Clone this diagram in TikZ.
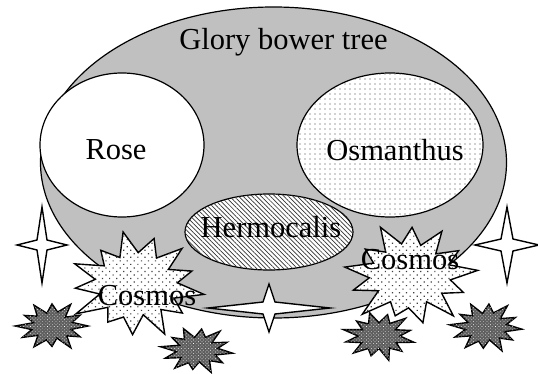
\documentclass[tikz,border=0pt]{standalone}
\usepackage{fontspec}
\setmainfont{Liberation Serif}
\newfontfamily\flowerfont{Liberation Serif}
\usetikzlibrary{positioning,shapes.geometric,patterns.meta}
\definecolor{ink}{RGB}{0,0,0}
\definecolor{bowergray}{RGB}{192,192,192}
\definecolor{darkgray}{RGB}{95,95,95}
\tikzset{
  bower/.style={draw=ink,ellipse,fill=bowergray,line width=1.2pt,inner sep=0pt},
  bloom/.style={draw=ink,ellipse,fill=white,line width=1.2pt,inner sep=0pt},
  dotty/.style={bloom,postaction={pattern={Dots[distance=5pt,radius=0.65pt]},pattern color=black!75}},
  hatch/.style={bloom,postaction={pattern={Lines[angle=-45,distance=3.2pt,line width=0.7pt]},pattern color=black!80}},
  spark/.style={draw=ink,fill=white,line width=1.4pt,line join=miter},
  cosmos/.style={draw=ink,fill=white,line width=1.4pt,line join=miter,
    postaction={pattern={Dots[angle=45,distance=5pt,radius=0.85pt]},pattern color=black!75}},
  darkburst/.style={draw=ink,fill=darkgray,line width=1.4pt,line join=miter,
    postaction={pattern={Dots[angle=45,distance=2.4pt,radius=0.45pt]},pattern color=white}},
  lbl/.style={font=\flowerfont\fontsize{30.5}{32}\selectfont,text=ink,inner sep=2pt},
}

\begin{document}
\begin{tikzpicture}[x=1pt,y=-1pt]
  \useasboundingbox (0,0) rectangle (538,374);

  \node[bower,minimum width=466pt,minimum height=311pt] (tree) at (273.5,162.5) {};
  \node[lbl,below=20pt of tree.north,xshift=10pt] (treelbl) {Glory bower tree};

  \node[bloom,minimum width=164pt,minimum height=144pt] (rose) at (122,145) {};
  \node[lbl] (roselbl) at (116,150) {Rose};
  \node[dotty,minimum width=186pt,minimum height=144pt] (osm) at (390,145) {};
  \node[lbl] (osmlbl) at (395,150) {Osmanthus};
  \node[hatch,minimum width=168pt,minimum height=76pt] (herm) at (269,232) {};
  \node[lbl] (hermlbl) at (271,227) {Hermocalis};

  % four-point sparks
  \foreach \cx/\cy/\w/\h/\i in {42/245/25/38/5, 507/245/32/38/6, 269/308/61/24/6}
    \draw[spark] (\cx,{\cy-\h}) -- ({\cx+\i},{\cy-\i}) -- ({\cx+\w},\cy)
      -- ({\cx+\i},{\cy+\i}) -- (\cx,{\cy+\h}) -- ({\cx-\i},{\cy+\i})
      -- ({\cx-\w},\cy) -- ({\cx-\i},{\cy-\i}) -- cycle;

  % dark bursts
  \foreach \cx/\cy/\rx/\ry/\tw in {52/326/36/24/0, 197/350/36/23/8, 379/336/36/24/15, 486/327/36/25/5}
    \draw[darkburst,shift={(\cx,\cy)}] ({\rx*cos(\tw)},{\ry*sin(\tw)})
      \foreach \r [count=\k] in {.55,.9,.58,1.05,.52,.85,.6,1,.55,.95,.58,1.02,.53,.88,.58,1,.55,.92,.6,1.04,.52,.9,.58}
        { -- ({\r*\rx*cos(\tw+\k*15)},{\r*\ry*sin(\tw+\k*15)}) } -- cycle;

  % cosmos bursts
  \foreach \cx/\cy/\rx/\ry/\tw in {136/285/69/54/10, 410/275/68/53/-5}
    \draw[cosmos,shift={(\cx,\cy)}] ({\rx*cos(\tw)},{\ry*sin(\tw)})
      \foreach \r [count=\k] in {.6,.85,.58,1,.56,.92,.62,.8,.58,1.02,.55,.88,.6,.97,.58,.82,.56,1,.6,.9,.58,.95,.55,.85,.6}
        { -- ({\r*\rx*cos(\tw+\k*360/26)},{\r*\ry*sin(\tw+\k*360/26)}) } -- cycle;

  \node[lbl] (cosmosl) at (147,296) {Cosmos};
  \node[lbl] (cosmosr) at (410,260) {Cosmos};
\end{tikzpicture}
\end{document}
